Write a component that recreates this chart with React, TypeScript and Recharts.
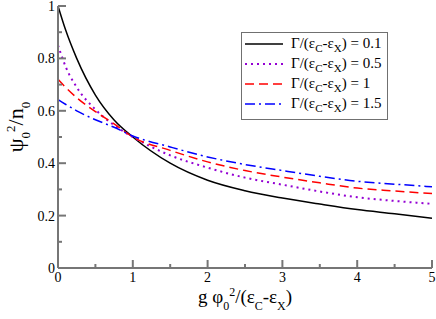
import React from "react";
import { LineChart, Line, XAxis, YAxis, Label } from "recharts";

// xmgrace-style plot: boxed frame, inward ticks, serif text
const W = 436;
const H = 319;
const AX = "#767676";
const FONT = "'Liberation Serif', 'DejaVu Serif', 'Times New Roman', Times, serif";

const xs = [0, 0.1, 0.25, 0.5, 0.75, 1, 1.5, 2, 2.5, 3, 3.5, 4, 4.5, 5];
const g01 = [1.0, 0.91, 0.8, 0.66, 0.565, 0.5, 0.4, 0.335, 0.295, 0.267, 0.244, 0.223, 0.207, 0.19];
const g05 = [0.85, 0.77, 0.69, 0.605, 0.545, 0.5, 0.43, 0.383, 0.345, 0.318, 0.292, 0.27, 0.256, 0.245];
const g10 = [0.72, 0.69, 0.65, 0.597, 0.55, 0.5, 0.449, 0.405, 0.372, 0.347, 0.325, 0.305, 0.294, 0.284];
const g15 = [0.643, 0.625, 0.6, 0.566, 0.537, 0.504, 0.462, 0.424, 0.395, 0.372, 0.35, 0.331, 0.32, 0.31];
const gammaLabels = ["0.1", "0.5", "1", "1.5"];

const xTicks = [0, 0.5, 1, 1.5, 2, 2.5, 3, 3.5, 4, 4.5, 5];
const yTicks = [0, 0.1, 0.2, 0.3, 0.4, 0.5, 0.6, 0.7, 0.8, 0.9, 1];

const series = [
  { key: "a", values: g01, color: "#000000", dash: undefined, width: 1.5 },
  { key: "b", values: g05, color: "#9400d3", dash: "2 4", width: 2 },
  { key: "c", values: g10, color: "#ff0000", dash: "9 5", width: 1.5 },
  { key: "d", values: g15, color: "#0000ff", dash: "10 4 2 4", width: 1.5 },
];

const data = xs.map((x, i) => {
  const row: Record<string, number> = { x };
  series.forEach((s) => (row[s.key] = s.values[i]));
  return row;
});

const majX = (v: number) => Math.abs(v - Math.round(v)) < 1e-6;
const majY = (v: number) => Math.abs(v * 5 - Math.round(v * 5)) < 1e-6;
const fmt = (v: number) => String(Math.round(v * 10) / 10);

function BottomTick({ x, y, payload }: any) {
  const m = majX(payload.value);
  return (
    <g>
      <line x1={x} x2={x} y1={y} y2={y - (m ? 8 : 4)} stroke={AX} strokeWidth={2} />
      {m && <text x={x} y={y + 14} textAnchor="middle" fontSize={14} fontFamily={FONT} fill="#000">{fmt(payload.value)}</text>}
    </g>
  );
}
function TopTick({ x, y, payload }: any) {
  const m = majX(payload.value);
  return <line x1={x} x2={x} y1={y} y2={y + (m ? 8 : 4)} stroke={AX} strokeWidth={2} />;
}
function LeftTick({ x, y, payload }: any) {
  const m = majY(payload.value);
  return (
    <g>
      <line x1={x} x2={x + (m ? 8 : 4)} y1={y} y2={y} stroke={AX} strokeWidth={2} />
      {m && <text x={x - 3} y={y + 5} textAnchor="end" fontSize={14} fontFamily={FONT} fill="#000">{fmt(payload.value)}</text>}
    </g>
  );
}
function RightTick({ x, y, payload }: any) {
  const m = majY(payload.value);
  return <line x1={x} x2={x - (m ? 8 : 4)} y1={y} y2={y} stroke={AX} strokeWidth={2} />;
}

const XTitle = ({ viewBox }: any) => (
  <text x={viewBox.x + viewBox.width / 2} y={viewBox.y + 35} textAnchor="middle" fontSize={19} fontFamily={FONT} fill="#000">
    g φ<tspan fontSize={12} dy={7}>0</tspan>
    <tspan fontSize={12} dy={-14}>2</tspan>
    <tspan dy={7}>/(ε</tspan>
    <tspan fontSize={12} dy={7}>C</tspan>
    <tspan dy={-7}>-ε</tspan>
    <tspan fontSize={12} dy={7}>X</tspan>
    <tspan dy={-7}>)</tspan>
  </text>
);

const YTitle = ({ viewBox }: any) => {
  const cx = 23;
  const cy = viewBox.y + viewBox.height / 2 - 10;
  return (
    <text x={cx} y={cy} textAnchor="middle" fontSize={22} fontFamily={FONT} fill="#000" transform={`rotate(-90 ${cx} ${cy})`}>
      ψ<tspan fontSize={13} dy={7}>0</tspan>
      <tspan fontSize={13} dy={-15}>2</tspan>
      <tspan dy={8}>/n</tspan>
      <tspan fontSize={13} dy={7}>0</tspan>
    </text>
  );
};

function LegendBox() {
  return (
    <div style={{ position: "absolute", left: 241, top: 32, width: 145, height: 85, border: "1px solid #707070", background: "#fff", paddingTop: 1, fontFamily: FONT, fontSize: 15, color: "#000" }}>
      {series.map((s, i) => (
        <div key={s.key} style={{ height: 20, display: "flex", alignItems: "center" }}>
          <svg width={38} height={20} style={{ marginLeft: 3 }}>
            <line x1={0} x2={38} y1={10} y2={10} stroke={s.color} strokeWidth={s.width} strokeDasharray={s.dash} />
          </svg>
          <span style={{ marginLeft: 8, whiteSpace: "nowrap" }}>
            Γ/(ε<sub style={{ fontSize: 11 }}>C</sub>-ε<sub style={{ fontSize: 11 }}>X</sub>) = {gammaLabels[i]}
          </span>
        </div>
      ))}
    </div>
  );
}

export default function App() {
  return (
    <div style={{ position: "absolute", left: 0, top: 0, width: W, height: H, background: "#fff" }}>
      <LineChart width={W} height={H} data={data} margin={{ top: 6, right: 4, left: 0, bottom: 0 }}>
        <XAxis dataKey="x" type="number" domain={[0, 5]} ticks={xTicks} interval={0} height={51}
          axisLine={{ stroke: AX, strokeWidth: 2 }} tickLine={false} tickSize={0} tickMargin={0} tick={BottomTick}>
          <Label content={XTitle} />
        </XAxis>
        <XAxis xAxisId="top" orientation="top" dataKey="x" type="number" domain={[0, 5]} ticks={xTicks} interval={0} height={0}
          axisLine={{ stroke: AX, strokeWidth: 2 }} tickLine={false} tickSize={0} tickMargin={0} tick={TopTick} />
        <YAxis type="number" domain={[0, 1]} ticks={yTicks} interval={0} width={58}
          axisLine={{ stroke: AX, strokeWidth: 2 }} tickLine={false} tickSize={0} tickMargin={0} tick={LeftTick}>
          <Label content={YTitle} />
        </YAxis>
        <YAxis yAxisId="right" orientation="right" type="number" domain={[0, 1]} ticks={yTicks} interval={0} width={0}
          axisLine={{ stroke: AX, strokeWidth: 2 }} tickLine={false} tickSize={0} tickMargin={0} tick={RightTick} />
        {series.map((s) => (
          <Line key={s.key} dataKey={s.key} type="monotone" stroke={s.color} strokeWidth={s.width}
            strokeDasharray={s.dash} dot={false} isAnimationActive={false} />
        ))}
      </LineChart>
      <LegendBox />
    </div>
  );
}
